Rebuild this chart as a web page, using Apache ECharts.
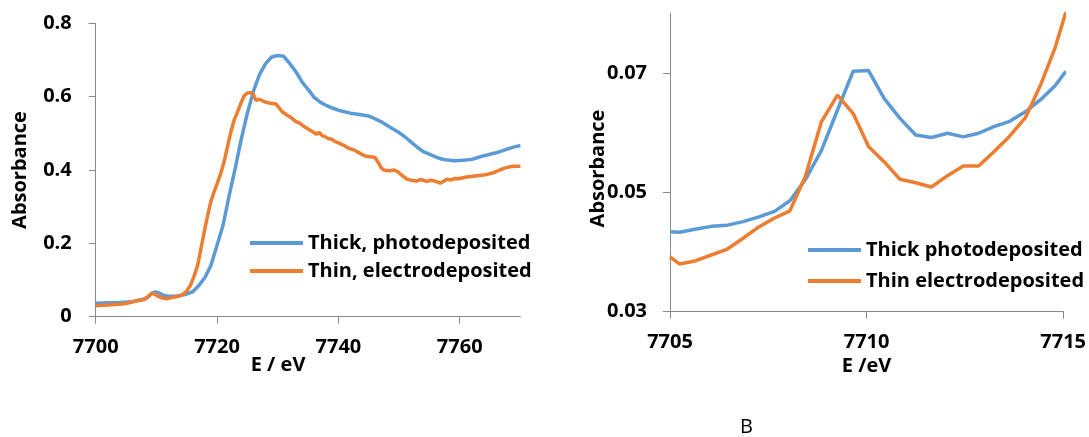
<!DOCTYPE html>
<html>
<head>
<meta charset="utf-8">
<script src="https://cdn.jsdelivr.net/npm/echarts@6.0.0/dist/echarts.min.js"></script>
<style>
  html, body { margin: 0; padding: 0; background: #fff; }
  #chart { width: 1089px; height: 437px; }
</style>
</head>
<body>
<div id="chart"></div>
<script>
// full XANES edge (left panel)
var thickWideE = [7700, 7702, 7704, 7706, 7707.5, 7708.5, 7709.3, 7709.9, 7710.5, 7711.2, 7712, 7713,
  7714, 7715, 7716, 7717, 7718, 7719, 7720, 7721, 7722, 7723, 7724, 7725, 7726, 7727, 7728, 7729, 7730,
  7731, 7732, 7733, 7734, 7735, 7736, 7737, 7738, 7739, 7740, 7742, 7744,
  7745, 7746, 7747, 7748, 7749, 7750, 7751, 7752, 7753, 7754, 7755, 7756, 7757, 7758, 7759, 7760,
  7761, 7762, 7763, 7764, 7765, 7766, 7767, 7768, 7769, 7770];
var thickWideA = [0.037, 0.038, 0.039, 0.041, 0.046, 0.052, 0.064, 0.068, 0.064, 0.058, 0.056, 0.056,
  0.058, 0.062, 0.068, 0.085, 0.107, 0.140, 0.195, 0.250, 0.330, 0.405, 0.485, 0.555, 0.615, 0.660, 0.690, 0.708, 0.712,
  0.710, 0.690, 0.668, 0.640, 0.620, 0.598, 0.585, 0.576, 0.569, 0.563, 0.555, 0.550,
  0.547, 0.540, 0.532, 0.522, 0.512, 0.502, 0.490, 0.476, 0.462, 0.450, 0.443, 0.436, 0.430, 0.427, 0.425, 0.426,
  0.427, 0.429, 0.434, 0.439, 0.443, 0.447, 0.452, 0.458, 0.463, 0.467];

var thinWideE = [7700, 7701, 7702, 7703, 7704, 7705, 7706, 7707, 7708, 7708.5, 7709.2, 7709.7, 7710.2,
  7711, 7711.7, 7712.5, 7713.5, 7714.3, 7715, 7715.6, 7716.2, 7716.8, 7717.4, 7718, 7718.5, 7719, 7719.5,
  7720, 7720.6, 7721.2, 7721.8, 7722.3, 7722.8, 7723.3, 7724, 7724.5, 7725, 7725.5, 7726, 7726.4, 7727, 7727.8,
  7728.8, 7729.7, 7730.2, 7730.8, 7731.5, 7732.2, 7733, 7733.7, 7734.2, 7735, 7735.9, 7736.4, 7736.8, 7737.4,
  7737.8, 7738.4, 7738.9, 7739.4, 7740, 7740.8, 7741.6, 7742.5, 7743.5, 7744.4, 7745.2, 7746, 7746.6, 7747.1,
  7747.6, 7748.4, 7749.2, 7749.7, 7750.5, 7751.3, 7752, 7752.9, 7753.5, 7754, 7754.6, 7755.2, 7755.8, 7756.4,
  7756.8, 7757.4, 7757.9, 7758.6, 7759.2, 7759.8, 7760.5, 7761.2, 7762.2, 7763.2, 7764.2, 7765, 7765.8, 7766.6,
  7767.4, 7768.3, 7769, 7770];
var thinWideA = [0.030, 0.031, 0.032, 0.033, 0.034, 0.036, 0.040, 0.044, 0.047, 0.053, 0.064, 0.062, 0.056,
  0.051, 0.049, 0.052, 0.055, 0.060, 0.070, 0.085, 0.110, 0.140, 0.190, 0.240, 0.280, 0.315, 0.340,
  0.362, 0.390, 0.425, 0.470, 0.505, 0.535, 0.555, 0.585, 0.603, 0.610, 0.611, 0.606, 0.590, 0.593, 0.586,
  0.582, 0.580, 0.570, 0.558, 0.550, 0.543, 0.532, 0.527, 0.520, 0.512, 0.503, 0.497, 0.503, 0.493,
  0.491, 0.485, 0.484, 0.478, 0.474, 0.468, 0.460, 0.455, 0.446, 0.438, 0.436, 0.435, 0.420, 0.405,
  0.399, 0.398, 0.400, 0.396, 0.385, 0.375, 0.372, 0.370, 0.374, 0.372, 0.369, 0.372, 0.370, 0.367,
  0.364, 0.370, 0.375, 0.373, 0.377, 0.376, 0.379, 0.381, 0.383, 0.385, 0.387, 0.390, 0.394, 0.400,
  0.405, 0.409, 0.410, 0.410];

// pre-edge zoom (right panel)
var zoomE = [7705.0, 7705.24, 7705.64, 7706.05, 7706.46, 7706.86, 7707.26, 7707.66, 7708.05, 7708.44,
  7708.85, 7709.26, 7709.66, 7710.05, 7710.45, 7710.85, 7711.25, 7711.65, 7712.06, 7712.46,
  7712.85, 7713.24, 7713.64, 7714.04, 7714.44, 7714.8, 7715.07];
var zoomThick = [0.0434, 0.0433, 0.0438, 0.0443, 0.0445, 0.0451, 0.0459, 0.0468, 0.0486, 0.0521,
  0.0570, 0.0638, 0.0703, 0.0704, 0.0657, 0.0624, 0.0596, 0.0592, 0.0599, 0.0593,
  0.0599, 0.0610, 0.0619, 0.0635, 0.0656, 0.0679, 0.0703];
var zoomThin = [0.0392, 0.0380, 0.0385, 0.0395, 0.0405, 0.0423, 0.0442, 0.0457, 0.0469, 0.0526,
  0.0618, 0.0663, 0.0632, 0.0577, 0.0551, 0.0522, 0.0516, 0.0509, 0.0528, 0.0544,
  0.0544, 0.0568, 0.0594, 0.0625, 0.0682, 0.0743, 0.0802];

var wideNames = ['Thick, photodeposited', 'Thin, electrodeposited'];
var zoomNames = ['Thick photodeposited', 'Thin electrodeposited'];
var wideXTicks = [7700, 7720, 7740, 7760];
var wideYTicks = [0, 0.2, 0.4, 0.6, 0.8];
var zoomXTicks = [7705, 7710, 7715];
var zoomYTicks = [0.03, 0.05, 0.07];

var blue = '#5B9BD5', orange = '#ED7D31', axisGrey = '#898989';
var font = '"Open Sans", "Liberation Sans", sans-serif';

var pairs = function (xs, ys) {
  var res = [];
  for (var i = 0; i < xs.length; i++) {
    res.push([xs[i], ys[i]]);
  }
  return res;
};

// energies are printed without the thousands comma
var plain = function (v) { return String(v); };

var labelStyle = { color: '#000', fontFamily: font, fontWeight: 'bold', fontSize: 20 };
var nameStyle = { color: '#000', fontFamily: font, fontWeight: 'bold', fontSize: 20 };

var lineSeries = function (name, data, idx, color) {
  return {
    name: name,
    type: 'line',
    xAxisIndex: idx,
    yAxisIndex: idx,
    data: data,
    symbol: 'none',
    showSymbol: false,
    animation: false,
    lineStyle: { color: color, width: 3.5 },
    itemStyle: { color: color }
  };
};

var myChart = echarts.init(document.getElementById('chart'), null, { renderer: 'canvas' });

var option = {
  backgroundColor: '#fff',
  animation: false,
  title: {
    text: 'B',
    left: 735,
    top: 412,
    textStyle: { color: '#000', fontFamily: font, fontWeight: 'normal', fontSize: 20 }
  },
  grid: [
    { left: 95.7, top: 23.3, width: 424.7, height: 293.4 },
    { left: 670, top: 13.3, width: 394.3, height: 298.4 }
  ],
  legend: [
    {
      data: wideNames,
      orient: 'vertical',
      left: 250,
      top: 233,
      padding: 0,
      icon: 'rect',
      itemWidth: 53,
      itemHeight: 4,
      itemGap: 8,
      textStyle: labelStyle
    },
    {
      data: zoomNames,
      orient: 'vertical',
      left: 808,
      top: 240,
      padding: 0,
      icon: 'rect',
      itemWidth: 53,
      itemHeight: 4,
      itemGap: 11,
      textStyle: labelStyle
    }
  ],
  xAxis: [
    {
      type: 'value',
      gridIndex: 0,
      min: 7700,
      max: 7770,
      name: 'E / eV',
      nameLocation: 'middle',
      nameGap: 39,
      nameMoveOverlap: false,
      nameTextStyle: Object.assign({ padding: [0, 60, 0, 0] }, nameStyle),
      axisLine: { lineStyle: { color: axisGrey } },
      axisTick: { customValues: wideXTicks, length: 7, lineStyle: { color: axisGrey } },
      axisLabel: Object.assign({ customValues: wideXTicks, margin: 21, formatter: plain }, labelStyle),
      splitLine: { show: false }
    },
    {
      type: 'value',
      gridIndex: 1,
      min: 7705,
      max: 7715,
      name: 'E /eV',
      nameLocation: 'middle',
      nameGap: 45,
      nameMoveOverlap: false,
      nameTextStyle: nameStyle,
      axisLine: { lineStyle: { color: axisGrey } },
      axisTick: { customValues: zoomXTicks, length: 7, lineStyle: { color: axisGrey } },
      axisLabel: Object.assign({ customValues: zoomXTicks, margin: 21, formatter: plain }, labelStyle),
      splitLine: { show: false }
    }
  ],
  yAxis: [
    {
      type: 'value',
      gridIndex: 0,
      min: 0,
      max: 0.8,
      name: 'Absorbance',
      nameLocation: 'middle',
      nameGap: 65,
      nameMoveOverlap: false,
      nameTextStyle: nameStyle,
      axisLine: { show: true, lineStyle: { color: axisGrey } },
      axisTick: { show: true, customValues: wideYTicks, length: 7, lineStyle: { color: axisGrey } },
      axisLabel: Object.assign({ customValues: wideYTicks, margin: 24 }, labelStyle),
      splitLine: { show: false }
    },
    {
      type: 'value',
      gridIndex: 1,
      min: 0.03,
      max: 0.08,
      name: 'Absorbance',
      nameLocation: 'middle',
      nameGap: 62,
      nameMoveOverlap: false,
      nameTextStyle: Object.assign({ padding: [0, 12, 0, 0] }, nameStyle),
      axisLine: { show: true, lineStyle: { color: axisGrey } },
      axisTick: { show: true, customValues: zoomYTicks, length: 7, lineStyle: { color: axisGrey } },
      axisLabel: Object.assign({ customValues: zoomYTicks, margin: 23 }, labelStyle),
      splitLine: { show: false }
    }
  ],
  series: [
    lineSeries(wideNames[0], pairs(thickWideE, thickWideA), 0, blue),
    lineSeries(wideNames[1], pairs(thinWideE, thinWideA), 0, orange),
    lineSeries(zoomNames[0], pairs(zoomE, zoomThick), 1, blue),
    lineSeries(zoomNames[1], pairs(zoomE, zoomThin), 1, orange)
  ]
};

myChart.setOption(option);
</script>
</body>
</html>
